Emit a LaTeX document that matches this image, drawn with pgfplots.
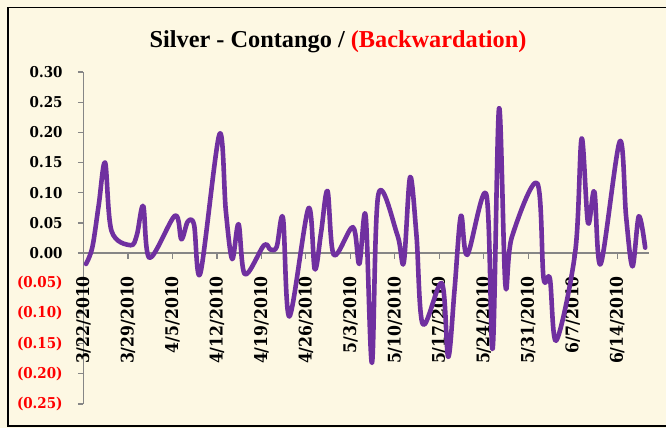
\documentclass[border=0pt]{standalone}
\usepackage{pgfplots}
\pgfplotsset{compat=1.18}
\usepackage{pgfplotstable}
\usepackage{fontspec}
\setmainfont{DejaVu Serif}
\newfontfamily\labfont{DejaVu Serif Condensed Bold}
\newfontfamily\titfont{Liberation Serif Bold}
\definecolor{bgc}{RGB}{253,248,227}
\definecolor{purp}{RGB}{112,48,160}
\definecolor{axgray}{RGB}{134,134,134}
\pgfplotstableread{
d v
0 -0.018
1 0.010
2 0.080
3 0.150
4 0.037
7 0.013
8 0.030
9 0.078
10 -0.008
14 0.062
15 0.023
16 0.052
17 0.047
18 -0.033
21 0.197
22 0.070
23 -0.010
24 0.048
25 -0.035
28 0.013
29 0.006
30 0.010
31 0.058
32 -0.105
35 0.074
36 -0.027
37 0.035
38 0.103
39 -0.003
42 0.043
43 -0.018
44 0.062
45 -0.182
46 0.097
49 0.030
50 -0.016
51 0.126
52 0.030
53 -0.118
56 -0.050
57 -0.172
58 -0.060
59 0.062
60 -0.003
63 0.097
64 -0.158
65 0.240
66 -0.053
67 0.026
71 0.116
72 -0.041
73 -0.042
74 -0.145
77 0.003
78 0.190
79 0.050
80 0.102
81 -0.018
84 0.185
85 0.060
86 -0.022
87 0.061
88 0.009
}\silver
\begin{document}
\begin{tikzpicture}[x=1bp,y=1bp]
% axis origin (south west corner of plot box) is at (0,0); image spans (-83.5,-24) to (582.5,404)
\useasboundingbox (-83.5,-24) rectangle (582.5,404);
\fill[bgc] (-83.5,-24) rectangle (582.5,404);
\draw[black, line width=1.3bp] (-75.5,-22) rectangle (586,396.5);
\node[font=\titfont\fontsize{24.4}{28}\selectfont, anchor=base] at (254.5,357) {Silver - Contango / \textcolor{red}{(Backwardation)}};
\begin{axis}[
  name=ax,
  scale only axis, width=565.5bp, height=332bp,
  xmin=0, xmax=89, ymin=-0.25, ymax=0.30,
  axis x line=middle, axis y line=left,
  hide obscured x ticks=false,
  axis line style={draw=axgray, line width=1.2bp, -},
  every tick/.style={draw=axgray, line width=1.2bp},
  major tick length=5.5bp, tick align=outside,
  xtick={0,7,14,21,28,35,42,49,56,63,70,77,84},
  xticklabels={3/22/2010,3/29/2010,4/5/2010,4/12/2010,4/19/2010,4/26/2010,5/3/2010,5/10/2010,5/17/2010,5/24/2010,5/31/2010,6/7/2010,6/14/2010},
  ytick={-0.25,-0.20,-0.15,-0.10,-0.05,0,0.05,0.10,0.15,0.20,0.25,0.30},
  yticklabels={{\textcolor{red}{(0.25)}},{\textcolor{red}{(0.20)}},{\textcolor{red}{(0.15)}},{\textcolor{red}{(0.10)}},{\textcolor{red}{(0.05)}},0.00,0.05,0.10,0.15,0.20,0.25,0.30},
  x tick label style={yshift=-14bp, rotate=90, anchor=east, font=\labfont\fontsize{17.5}{20}\selectfont},
  y tick label style={font=\labfont\fontsize{15}{18}\selectfont, xshift=-12bp},
  clip=false,
]
\addplot[color=purp, line width=4.6bp, smooth, tension=0.55, line join=round, line cap=round] table[x expr=\thisrow{d}+0.4, y=v] {\silver};
\end{axis}
\end{tikzpicture}
\end{document}
